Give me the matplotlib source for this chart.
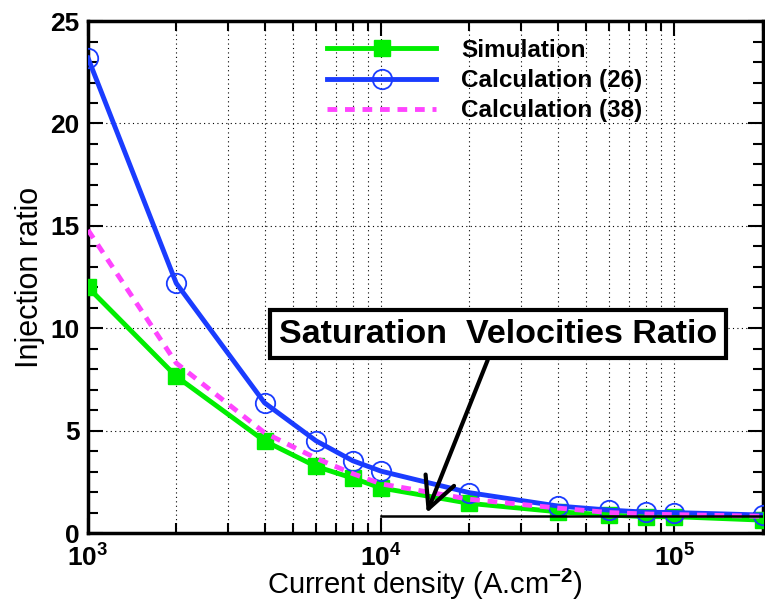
import matplotlib

matplotlib.use("Agg")
import matplotlib.pyplot as plt
from matplotlib.ticker import LogLocator, MultipleLocator, NullFormatter

plt.rcParams["font.family"] = ["Liberation Sans", "DejaVu Sans"]
plt.rcParams["mathtext.fontset"] = "custom"
plt.rcParams["mathtext.rm"] = "Liberation Sans:bold"
plt.rcParams["mathtext.bf"] = "Liberation Sans:bold"

# current density (A.cm-2)
current = [1e3, 2e3, 4e3, 6e3, 8e3, 1e4, 2e4, 4e4, 6e4, 8e4, 1e5, 2e5]
simulation = [12.0, 7.65, 4.5, 3.25, 2.68, 2.2, 1.45, 1.04, 0.88, 0.8, 0.8, 0.63]
calc_26 = [23.2, 12.2, 6.36, 4.5, 3.53, 3.02, 1.97, 1.32, 1.12, 1.02, 1.0, 0.88]
calc_38 = [14.8, 8.3, 4.9, 3.65, 2.9, 2.4, 1.65, 1.22, 1.0, 0.93, 0.9, 0.82]

sat_ratio = 0.83
sat_x = [1e4, 2e5]

fig = plt.figure(figsize=(7.65, 6.03), dpi=100)
ax = fig.add_axes([0.115, 0.116, 0.882, 0.849])

ax.plot(current, simulation, color="#00ee00", lw=3.5, marker="s", ms=11.5,
        label="Simulation", zorder=3)
ax.plot(current, calc_26, color="#1a3cff", lw=3.5, marker="o", ms=14,
        mfc="none", mec="#1a3cff", mew=1.3, label="Calculation (26)", zorder=4)
ax.plot(current, calc_38, color="#ff44ff", lw=3.5, ls=(0, (2, 1.6)),
        label="Calculation (38)", zorder=5)

ax.plot(sat_x, [sat_ratio, sat_ratio], color="black", lw=1.8, zorder=6)
ax.annotate(
    "Saturation  Velocities Ratio",
    xy=(1.43e4, 0.98), xytext=(2.5e4, 9.7),
    ha="center", va="center", fontsize=24.5, fontweight="bold",
    bbox=dict(boxstyle="square,pad=0.25", fc="white", ec="black", lw=3),
    arrowprops=dict(arrowstyle="->,head_length=0.9,head_width=0.45",
                    color="black", lw=3, shrinkA=0, shrinkB=0),
    zorder=7,
)

ax.set_xscale("log")
ax.set_xlim(1e3, 2e5)
ax.set_ylim(0, 25)
ax.xaxis.set_major_locator(LogLocator(base=10))
ax.xaxis.set_minor_locator(LogLocator(base=10, subs=range(2, 10)))
ax.xaxis.set_minor_formatter(NullFormatter())
ax.set_xticks([1e3, 1e4, 1e5])
ax.set_xticklabels([r"$10^{3}$", r"$10^{4}$", r"$10^{5}$"])
ax.yaxis.set_major_locator(MultipleLocator(5))
ax.yaxis.set_minor_locator(MultipleLocator(1))

ax.grid(True, which="major", color="black", ls=(0, (1, 3)), lw=0.8)
ax.grid(True, which="minor", axis="x", color="black", ls=(0, (1, 3)), lw=0.8)

ax.tick_params(which="both", direction="in", top=True, right=True,
               width=1.5, labelsize=19, pad=6)
ax.tick_params(axis="x", which="major", pad=7)
ax.tick_params(which="major", length=11)
ax.tick_params(which="minor", length=7)
for lab in ax.get_yticklabels():
    lab.set_fontweight("bold")
for sp in ax.spines.values():
    sp.set_linewidth(2.5)

ax.set_xlabel("Current density (A.cm$^{-2}$)", fontsize=21, labelpad=-3)
ax.set_ylabel("Injection ratio", fontsize=22, labelpad=4)

ax.legend(loc="upper left", bbox_to_anchor=(0.322, 1.008), frameon=False,
          handlelength=4.5, handletextpad=1.0, labelspacing=0.3,
          prop=dict(weight="bold", size=17.5))

fig.savefig("out.png", dpi=100)
